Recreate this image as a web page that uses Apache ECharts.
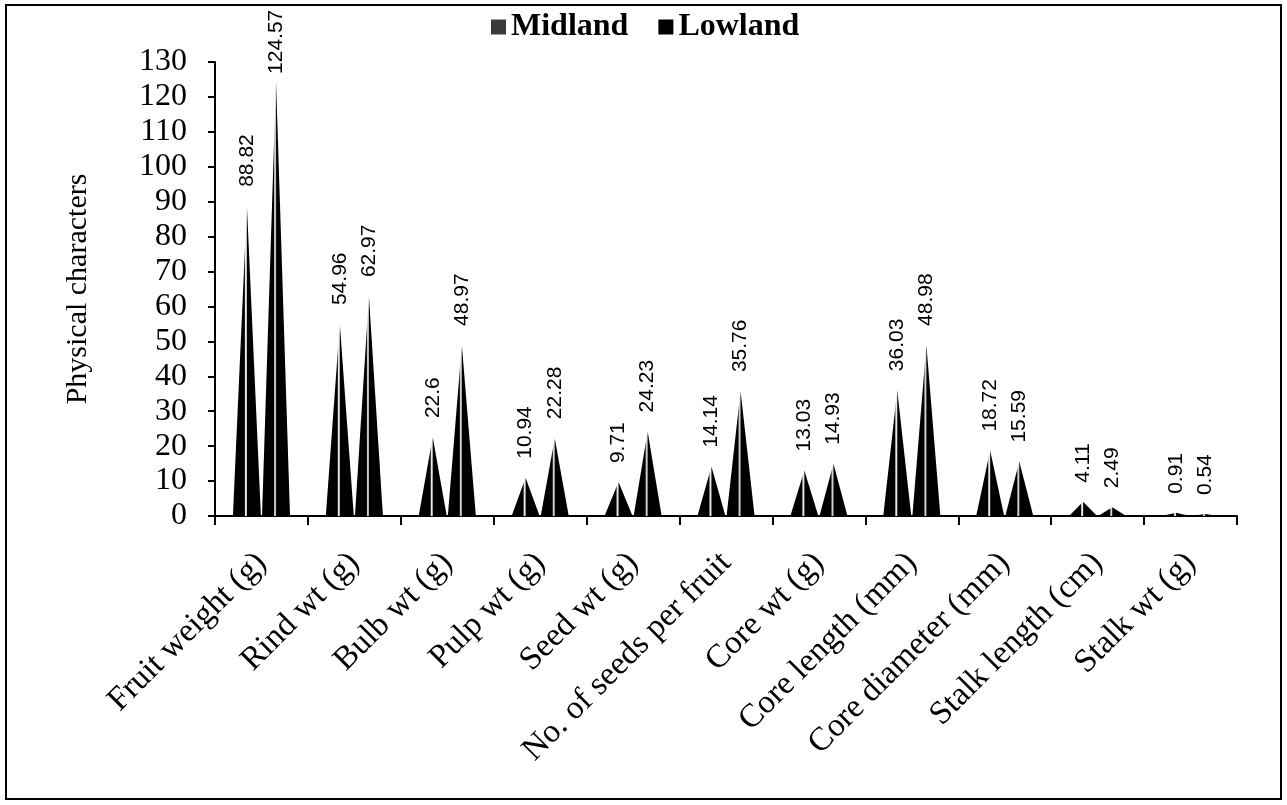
<!DOCTYPE html>
<html>
<head>
<meta charset="utf-8">
<script src="https://cdn.jsdelivr.net/npm/echarts@6/dist/echarts.min.js"></script>
<style>
  html, body { margin: 0; padding: 0; background: #fff; }
  #chart { width: 1287px; height: 805px; }
</style>
</head>
<body>
<div id="chart"></div>
<script>
// Physical characters of fruit: Midland vs Lowland
const categories = [
  'Fruit weight (g)', 'Rind wt (g)', 'Bulb wt (g)', 'Pulp wt (g)', 'Seed wt (g)',
  'No. of seeds per fruit', 'Core wt (g)', 'Core length (mm)', 'Core diameter (mm)',
  'Stalk length (cm)', 'Stalk wt (g)'
];
const midland = [88.82, 54.96, 22.6, 10.94, 9.71, 14.14, 13.03, 36.03, 18.72, 4.11, 0.91];
const lowland = [124.57, 62.97, 48.97, 22.28, 24.23, 35.76, 14.93, 48.98, 15.59, 2.49, 0.54];

const serif = '"Liberation Serif", "Times New Roman", serif';
const AXIS_MAX = 130;

// Cone fill: dark body with a thin light highlight running up the middle
function coneFill(hl) {
  return {
    type: 'linear', x: 0, y: 0, x2: 1, y2: 0,
    colorStops: [
      { offset: 0, color: '#000' },
      { offset: 0.41, color: '#000' },
      { offset: 0.45, color: hl },
      { offset: 0.48, color: hl },
      { offset: 0.52, color: '#000' },
      { offset: 1, color: '#000' }
    ]
  };
}

// Isosceles cone outline spanning the full bar box
const cone = 'path://M0,100 L50,0 L100,100 Z';

const valueLabel = {
  show: true,
  position: 'top',
  rotate: 90,
  align: 'left',
  verticalAlign: 'middle',
  distance: 19,
  color: '#000',
  fontFamily: '"Liberation Sans", Arial, sans-serif',
  fontSize: 21,
  formatter: p => String(p.value)
};

// Labels of cones reaching close to the top of the axis sit tighter to the tip
function withLabels(values) {
  return values.map(v => (v > AXIS_MAX - 10 ? { value: v, label: { distance: 7 } } : v));
}

const chart = echarts.init(document.getElementById('chart'));
chart.setOption({
  backgroundColor: '#fff',
  animation: false,
  graphic: [{
    type: 'rect',
    shape: { x: 6, y: 5, width: 1275, height: 794 },
    style: { fill: 'none', stroke: '#000', lineWidth: 2 },
    silent: true
  }],
  legend: {
    top: 6,
    left: 486,
    itemWidth: 15,
    itemHeight: 15,
    itemGap: 30,
    textStyle: { fontFamily: serif, fontWeight: 'bold', fontSize: 32, color: '#000' },
    data: [
      { name: 'Midland', icon: 'rect', itemStyle: { color: '#3a3a3a' } },
      { name: 'Lowland', icon: 'rect', itemStyle: { color: '#000' } }
    ]
  },
  grid: { left: 215, right: 50, top: 62, bottom: 289, containLabel: false },
  xAxis: {
    type: 'category',
    data: categories,
    axisLine: { lineStyle: { color: '#000', width: 2 } },
    axisTick: { show: true, length: 9, lineStyle: { color: '#000', width: 2 } },
    axisLabel: {
      interval: 0,
      rotate: 45,
      margin: 42,
      color: '#000',
      fontFamily: serif,
      fontSize: 33
    }
  },
  yAxis: {
    type: 'value',
    min: 0,
    max: AXIS_MAX,
    interval: 10,
    name: 'Physical characters',
    nameLocation: 'middle',
    nameGap: 122,
    nameTextStyle: { fontFamily: serif, fontSize: 30, color: '#000' },
    splitLine: { show: false },
    axisLine: { show: true, lineStyle: { color: '#000', width: 2 } },
    axisTick: { show: true, length: 7, lineStyle: { color: '#000', width: 2 } },
    axisLabel: { margin: 28, color: '#000', fontFamily: serif, fontSize: 32 }
  },
  series: [
    {
      name: 'Midland',
      type: 'pictorialBar',
      symbol: cone,
      symbolSize: [28, '100%'],
      barWidth: 28,
      barGap: '4%',
      data: withLabels(midland),
      itemStyle: { color: coneFill('#e8e8e8') },
      label: valueLabel,
      z: 3
    },
    {
      name: 'Lowland',
      type: 'pictorialBar',
      symbol: cone,
      symbolSize: [28, '100%'],
      barWidth: 28,
      barGap: '4%',
      data: withLabels(lowland),
      itemStyle: { color: coneFill('#cfcfcf') },
      label: valueLabel,
      z: 3
    }
  ]
});
</script>
</body>
</html>
